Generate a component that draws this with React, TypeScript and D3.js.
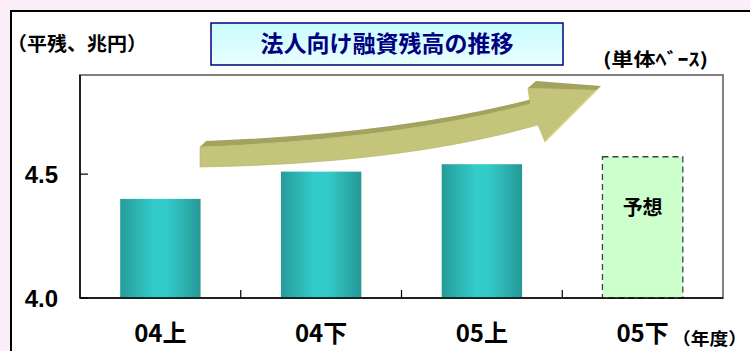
import React from "react";
import * as d3 from "d3";

const categories = ["04上", "04下", "05上", "05下"];
const values = [4.4, 4.51, 4.54, 4.57];
const isForecast = [false, false, false, true];
const yTicks = [4.0, 4.5];
const yDomain = [4.0, 4.9];

const W = 750;
const H = 351;
const plot = { left: 80, right: 723, top: 75, bottom: 298 };
const JP = "'Noto Sans CJK JP', 'Noto Sans CJK SC', sans-serif";

export default function App() {
  const x = d3
    .scaleBand<string>()
    .domain(categories)
    .range([plot.left, plot.right])
    .paddingInner(0.5)
    .paddingOuter(0.25);
  const xb = d3.scaleBand<string>().domain(categories).range([plot.left, plot.right]);
  const y = d3.scaleLinear().domain(yDomain).range([plot.bottom, plot.top]);

  // decorative arrow
  const P = (a: number, b: number) => `${a.toFixed(1)},${b.toFixed(1)}`;
  const front =
    `M${P(200, 147)} Q${P(396, 139.5)} ${P(530, 104)} L${P(528, 88)} L${P(597, 90)} L${P(545, 142)} L${P(538, 125)} Q${P(401, 164)} ${P(200, 167)} Z`;
  const topFace =
    `M${P(200, 147)} Q${P(396, 139.5)} ${P(530, 104)} L${P(536, 98)} Q${P(402, 133.5)} ${P(206, 141)} Z`;
  const headTop = `M${P(528, 88)} L${P(536, 81)} L${P(601, 86)} L${P(597, 90)} Z`;

  return (
    <svg
      width={W}
      height={H}
      style={{ position: "absolute", left: 0, top: 0 }}
      xmlns="http://www.w3.org/2000/svg"
    >
      <defs>
        <linearGradient id="barGrad" x1="0" x2="1" y1="0" y2="0">
          <stop offset="0" stopColor="#269C99" />
          <stop offset="0.42" stopColor="#33CCCA" />
          <stop offset="0.58" stopColor="#33CBCA" />
          <stop offset="1" stopColor="#259896" />
        </linearGradient>
        <linearGradient id="titleGrad" x1="0" x2="0" y1="0" y2="1">
          <stop offset="0" stopColor="#C8FCFF" />
          <stop offset="1" stopColor="#EAFEFF" />
        </linearGradient>
      </defs>
      <rect x={0} y={0} width={W} height={H} fill="#FBEEF8" />
      <rect x={11} y={11} width={W + 20} height={H + 20} fill="#FFFFFF" stroke="#000" strokeWidth={2} />

      {/* plot frame */}
      <rect
        x={plot.left}
        y={plot.top}
        width={plot.right - plot.left}
        height={plot.bottom - plot.top}
        fill="#FFFFFF"
        stroke="#808080"
        strokeWidth={2}
      />

      {/* arrow */}
      <path d={topFace} fill="#A3A25F" />
      <path d={front} fill="#C4C57A" stroke="#B5B66C" strokeWidth={0.6} />
      <path d={headTop} fill="#A3A25F" />
      <line x1={597} y1={90} x2={545} y2={142} stroke="#E2E29A" strokeWidth={1.2} />

      {/* bars */}
      {categories.map((c, i) =>
        isForecast[i] ? (
          <g key={c}>
            <rect
              x={x(c)}
              y={y(values[i])}
              width={x.bandwidth()}
              height={plot.bottom - y(values[i])}
              fill="#CCFFCC"
              stroke="#404040"
              strokeWidth={1.3}
              strokeDasharray="6,4"
            />
            <text
              x={(x(c) as number) + x.bandwidth() / 2}
              y={215}
              textAnchor="middle"
              fontFamily={JP}
              fontWeight="bold"
              fontSize={20}
              fill="#000"
            >
              予想
            </text>
          </g>
        ) : (
          <rect
            key={c}
            x={x(c)}
            y={y(values[i])}
            width={x.bandwidth()}
            height={plot.bottom - y(values[i])}
            fill="url(#barGrad)"
          />
        )
      )}

      {/* axes */}
      <line x1={plot.left} y1={plot.top} x2={plot.left} y2={plot.bottom} stroke="#000" strokeWidth={1.5} />
      <line x1={plot.left} y1={plot.bottom} x2={plot.right} y2={plot.bottom} stroke="#000" strokeWidth={1.5} />
      {yTicks.map((t) => (
        <g key={t}>
          <line x1={plot.left} x2={plot.left + 8} y1={y(t)} y2={y(t)} stroke="#000" strokeWidth={1.2} />
          <text
            x={58}
            y={y(t) + 8.5}
            textAnchor="end"
            fontFamily="'Liberation Sans', Arial, sans-serif"
            fontWeight="bold"
            fontSize={24}
            fill="#000"
          >
            {t.toFixed(1)}
          </text>
        </g>
      ))}
      {categories.slice(1).map((c) => (
        <line
          key={c}
          x1={xb(c)}
          x2={xb(c)}
          y1={plot.bottom}
          y2={plot.bottom - 8}
          stroke="#000"
          strokeWidth={1.2}
        />
      ))}
      {categories.map((c) => (
        <text
          key={c}
          x={(x(c) as number) + x.bandwidth() / 2}
          y={342}
          textAnchor="middle"
          fontFamily={JP}
          fontWeight="bold"
          fontSize={24}
          fill="#000"
        >
          {c}
        </text>
      ))}

      {/* title */}
      <rect x={211} y={23} width={352} height={42} fill="url(#titleGrad)" stroke="#000080" strokeWidth={1.5} />
      <text
        x={387}
        y={52}
        textAnchor="middle"
        fontFamily={JP}
        fontWeight="bold"
        fontSize={23}
        fill="#000080"
      >
        法人向け融資残高の推移
      </text>

      <text
        x={7}
        y={51}
        fontFamily={JP}
        fontWeight="bold"
        fontSize={19}
        fill="#000"
        textLength={140}
        lengthAdjust="spacingAndGlyphs"
      >
        （平残、兆円）
      </text>
      <text
        x={603}
        y={66}
        fontFamily={JP}
        fontWeight="bold"
        fontSize={18}
        fill="#000"
        textLength={105}
        lengthAdjust="spacingAndGlyphs"
      >
        (単体ﾍﾞｰｽ)
      </text>
      <text
        x={672}
        y={345}
        fontFamily={JP}
        fontWeight="bold"
        fontSize={17}
        fill="#000"
        textLength={75}
        lengthAdjust="spacingAndGlyphs"
      >
        （年度）
      </text>
    </svg>
  );
}
